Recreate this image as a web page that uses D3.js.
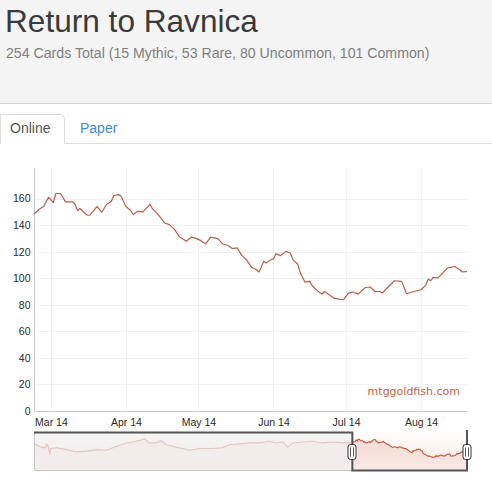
<!DOCTYPE html>
<html>
<head>
<meta charset="utf-8">
<script src="https://cdn.jsdelivr.net/npm/d3@7"></script>
<style>
  html, body { margin: 0; padding: 0; background: #fff; }
  svg { display: block; font-family: "Liberation Sans", Arial, Helvetica, sans-serif; }
</style>
</head>
<body>
<svg id="chart" width="492" height="484"></svg>
<script>
'use strict';

// header text
var title = 'Return to Ravnica';
var subtitle = '254 Cards Total (15 Mythic, 53 Rare, 80 Uncommon, 101 Common)';
var tabs = ['Online', 'Paper'];

// main series (visible window)
var dates = [
  '2014-02-22','2014-02-24','2014-02-26','2014-02-28','2014-03-02','2014-03-03','2014-03-05','2014-03-07',
  '2014-03-10','2014-03-11','2014-03-12','2014-03-13','2014-03-16','2014-03-17','2014-03-20','2014-03-22',
  '2014-03-24','2014-03-26','2014-03-27','2014-03-29','2014-03-30','2014-04-01','2014-04-03','2014-04-04',
  '2014-04-06','2014-04-08','2014-04-11','2014-04-12','2014-04-14','2014-04-17','2014-04-19','2014-04-21',
  '2014-04-23','2014-04-26','2014-04-28','2014-04-30','2014-05-02','2014-05-04','2014-05-06','2014-05-09',
  '2014-05-11','2014-05-13','2014-05-15','2014-05-17','2014-05-19','2014-05-21','2014-05-23','2014-05-25',
  '2014-05-26','2014-05-28','2014-05-29','2014-05-31','2014-06-01','2014-06-02','2014-06-04','2014-06-06',
  '2014-06-08','2014-06-09','2014-06-11','2014-06-12','2014-06-14','2014-06-16','2014-06-17','2014-06-19',
  '2014-06-21','2014-06-22','2014-06-24','2014-06-26','2014-06-28','2014-06-30','2014-07-02','2014-07-04',
  '2014-07-06','2014-07-09','2014-07-11','2014-07-13','2014-07-15','2014-07-16','2014-07-18','2014-07-21',
  '2014-07-24','2014-07-26','2014-07-29','2014-08-01','2014-08-03','2014-08-04','2014-08-05','2014-08-06',
  '2014-08-08','2014-08-12','2014-08-15','2014-08-17','2014-08-18','2014-08-20'
];
var prices = [
  148.4,151.7,154,161,157,163.8,163.8,157.5,
  157.5,155.5,151,152.5,147.4,147.4,154,149.7,
  155.5,158,162.3,163,161.7,154,151,148,
  150.4,150,155.5,152.2,148.7,141.6,140.4,137,
  131.5,127.8,131,130,128.3,125.8,131,129.8,
  125.8,124.8,122.3,122.8,117,113.5,108.2,106.4,
  104.7,112.7,111.5,114,114.7,118.5,117,120.2,
  119,114,110.7,104.4,97.1,97.6,94.3,90.8,
  88,90,87.5,85,84.3,83.8,88.8,89.6,
  88,93,93.4,90,90,88.8,92.6,98.1,
  97.6,88.3,90,91.3,95,99.4,98.1,100.6,
  100.2,107.7,108.9,106.4,104.7,105.1
];

// older history, only shown in the range selector
var historyDates = [
  '2012-10-13','2012-10-20','2012-10-25','2012-10-30','2012-11-02','2012-11-04','2012-11-07','2012-11-08',
  '2012-11-17','2012-12-03','2012-12-18','2013-01-03','2013-01-19','2013-02-03','2013-02-16','2013-03-06',
  '2013-03-17','2013-04-04','2013-04-11','2013-04-22','2013-04-30','2013-05-08','2013-05-23','2013-06-13',
  '2013-06-28','2013-07-19','2013-08-03','2013-08-14','2013-08-29','2013-09-14','2013-09-30','2013-10-15',
  '2013-10-26','2013-11-05','2013-11-13','2013-11-21','2013-12-06','2013-12-22','2014-01-06','2014-01-22',
  '2014-02-07'
];
var historyPrices = [
  148,133,129,126,143.5,133,95,123,
  126,118,108,111,118,115,130,148,
  152,166,148,148,158,140,129,115,
  123,123,126,140,143.5,148,148,155.5,
  148,152,130,148,152,155.5,148,152,
  148
];

var yTicks = [0, 20, 40, 60, 80, 100, 120, 140, 160];
var monthTicks = ['2014-03-01','2014-04-01','2014-05-01','2014-06-01','2014-07-01','2014-08-01'];

var parse = d3.timeParse('%Y-%m-%d');
var fmt = d3.timeFormat('%b %y');
var lineColor = '#b9604b';

var svg = d3.select('#chart');

// ---- header ----
svg.append('rect').attr('x', 0).attr('y', 0).attr('width', 492).attr('height', 103).attr('fill', '#f4f4f4');
svg.append('line').attr('x1', 0).attr('x2', 492).attr('y1', 103.5).attr('y2', 103.5).attr('stroke', '#d6d6d6');
svg.append('text').attr('x', 5).attr('y', 32).attr('font-size', 31.6).attr('fill', '#3a3a3a').text(title);
svg.append('text').attr('x', 6).attr('y', 58).attr('font-size', 14.15).attr('fill', '#808080').text(subtitle);

// ---- tabs ----
svg.append('line').attr('x1', 64).attr('x2', 492).attr('y1', 143.5).attr('y2', 143.5).attr('stroke', '#ddd');
svg.append('path')
  .attr('d', 'M0.5,143.5 V114.5 H60.5 Q64.5,114.5 64.5,118.5 V143.5')
  .attr('fill', '#fff').attr('stroke', '#ddd');
svg.append('text').attr('x', 10).attr('y', 133).attr('font-size', 14).attr('fill', '#555').text(tabs[0]);
svg.append('text').attr('x', 80).attr('y', 133).attr('font-size', 14).attr('fill', '#428bca').text(tabs[1]);

// ---- main chart ----
var data = dates.map(function(d, i) { return { date: parse(d), value: prices[i] }; });
var plot = { left: 34, right: 467, top: 168, bottom: 411 };

var x = d3.scaleTime()
  .domain([parse(dates[0]), parse(dates[dates.length - 1])])
  .range([plot.left, plot.right]);
var y = d3.scaleLinear().domain([0, 183]).range([plot.bottom, plot.top]);

var grid = svg.append('g');
grid.selectAll('line.h').data(yTicks.slice(1)).enter().append('line')
  .attr('x1', plot.left).attr('x2', plot.right)
  .attr('y1', function(d) { return Math.round(y(d)) + 0.5; })
  .attr('y2', function(d) { return Math.round(y(d)) + 0.5; })
  .attr('stroke', '#f2f2f2');
grid.selectAll('line.v').data(monthTicks).enter().append('line')
  .attr('y1', plot.top).attr('y2', plot.bottom)
  .attr('x1', function(d) { return Math.round(x(parse(d))) + 0.5; })
  .attr('x2', function(d) { return Math.round(x(parse(d))) + 0.5; })
  .attr('stroke', '#f2f2f2');

// axes
var yAxis = d3.axisLeft(y).tickValues(yTicks).tickSize(0).tickPadding(4);
var gy = svg.append('g').attr('transform', 'translate(' + (plot.left + 0.5) + ',0)').call(yAxis);
gy.select('.domain').attr('stroke', '#ccc').attr('d', 'M0,' + plot.top + 'V' + plot.bottom);
gy.selectAll('text').attr('font-size', 10.5).attr('fill', '#2a2a2a')
  .attr('font-family', '"Liberation Sans", Arial, sans-serif');

var xAxis = d3.axisBottom(x).tickValues(monthTicks.map(parse)).tickFormat(fmt).tickSize(0).tickPadding(7);
var gx = svg.append('g').attr('transform', 'translate(0,' + (plot.bottom + 0.5) + ')').call(xAxis);
gx.select('.domain').attr('stroke', '#ccc').attr('d', 'M' + plot.left + ',0H' + plot.right);
gx.selectAll('text').attr('font-size', 10.5).attr('fill', '#2a2a2a')
  .attr('font-family', '"Liberation Sans", Arial, sans-serif');

var line = d3.line()
  .x(function(d) { return x(d.date); })
  .y(function(d) { return y(d.value); });

svg.append('path').datum(data)
  .attr('d', line)
  .attr('fill', 'none')
  .attr('stroke', lineColor)
  .attr('stroke-width', 1.2)
  .attr('stroke-linejoin', 'round');

svg.append('text')
  .attr('x', 460).attr('y', 395)
  .attr('text-anchor', 'end')
  .attr('font-family', '"DejaVu Sans", Verdana, sans-serif')
  .attr('font-size', 11)
  .attr('fill', '#c0644d')
  .text('mtggoldfish.com');

// ---- range selector ----
var full = historyDates.map(function(d, i) { return { date: parse(d), value: historyPrices[i] }; })
  .concat(data);
var rs = { left: 34, right: 467, top: 432, bottom: 471 };
var rx = d3.scaleTime()
  .domain([parse(historyDates[0]), parse(dates[dates.length - 1])])
  .range([rs.left, rs.right]);
var ry = d3.scaleLinear().domain([22, 197]).range([rs.bottom, rs.top]);
var selL = rx(parse(dates[0])), selR = rx(parse(dates[dates.length - 1]));

var defs = svg.append('defs');
var bg = defs.append('linearGradient').attr('id', 'rsbg').attr('x1', 0).attr('x2', 0).attr('y1', 0).attr('y2', 1);
bg.append('stop').attr('offset', '0%').attr('stop-color', '#fffdfc');
bg.append('stop').attr('offset', '100%').attr('stop-color', '#f7e6e1');
var fillG = defs.append('linearGradient').attr('id', 'rsfill').attr('x1', 0).attr('x2', 0).attr('y1', 0).attr('y2', 1);
fillG.append('stop').attr('offset', '0%').attr('stop-color', '#f6dcd5');
fillG.append('stop').attr('offset', '100%').attr('stop-color', '#f8e9e5');

svg.append('rect').attr('x', rs.left).attr('y', rs.top).attr('width', rs.right - rs.left)
  .attr('height', rs.bottom - rs.top).attr('fill', 'url(#rsbg)');

var area = d3.area()
  .x(function(d) { return rx(d.date); })
  .y0(rs.bottom)
  .y1(function(d) { return ry(d.value); });
var rline = d3.line()
  .x(function(d) { return rx(d.date); })
  .y(function(d) { return ry(d.value); });

svg.append('path').datum(full).attr('d', area).attr('fill', 'url(#rsfill)');
svg.append('path').datum(full).attr('d', rline).attr('fill', 'none')
  .attr('stroke', '#c4573d').attr('stroke-width', 1.1);

// grey veil over the unselected part
svg.append('rect').attr('x', rs.left).attr('y', rs.top).attr('width', selL - rs.left)
  .attr('height', rs.bottom - rs.top).attr('fill', 'rgb(240,240,240)').attr('fill-opacity', 0.72);

// frame
svg.append('path')
  .attr('d', 'M' + (rs.left + 0.5) + ',' + rs.top + 'V' + (rs.bottom - 0.5) + 'H' + selL)
  .attr('fill', 'none').attr('stroke', '#c8c8c8');
svg.append('path')
  .attr('d', 'M' + rs.left + ',' + (rs.top + 0.5) + 'H' + selL + 'V' + (rs.bottom - 0.5) + 'H' + selR + 'V' + (rs.top - 2))
  .attr('fill', 'none').attr('stroke', '#555').attr('stroke-width', 2);

// handles
[selL, selR].forEach(function(hx) {
  var g = svg.append('g').attr('transform', 'translate(' + Math.round(hx) + ',452)');
  g.append('rect').attr('x', -4).attr('y', -7.5).attr('width', 8).attr('height', 15).attr('rx', 2.5)
    .attr('fill', '#fff').attr('stroke', '#333');
  g.append('line').attr('x1', -1.5).attr('x2', -1.5).attr('y1', -4.5).attr('y2', 4.5).attr('stroke', '#555');
  g.append('line').attr('x1', 1.5).attr('x2', 1.5).attr('y1', -4.5).attr('y2', 4.5).attr('stroke', '#555');
});
</script>
</body>
</html>
